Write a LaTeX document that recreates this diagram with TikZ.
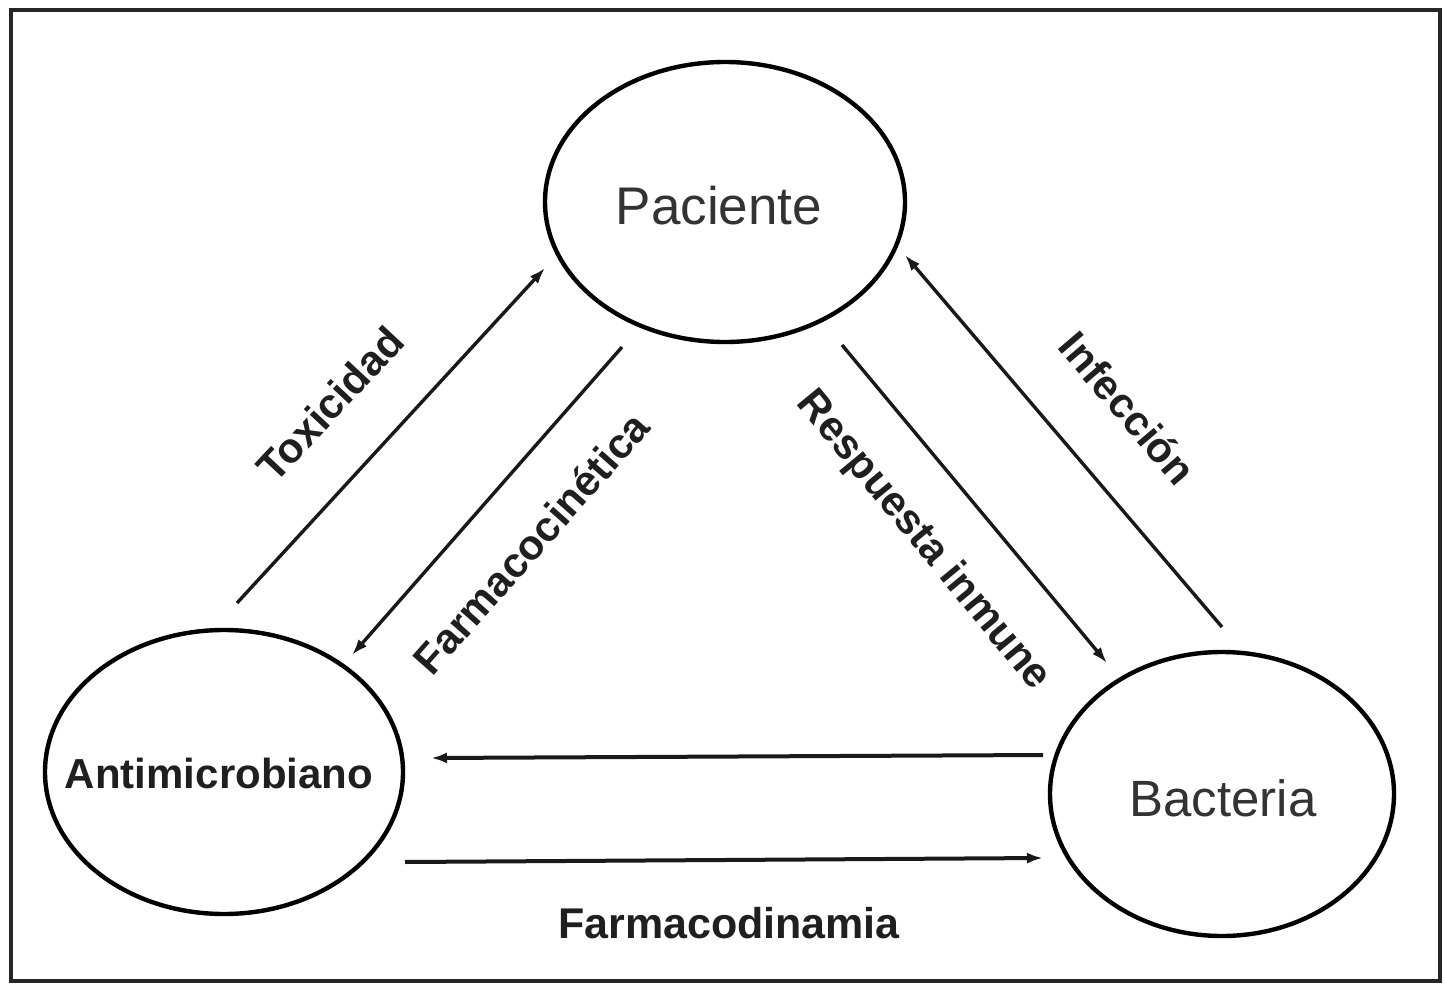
\documentclass[tikz,border=0pt]{standalone}
\usepackage{fontspec}
\setmainfont{Liberation Sans}
\usetikzlibrary{arrows.meta,shapes.geometric}
\begin{document}
\begin{tikzpicture}[x=1pt,y=-1pt,
  oval/.style={draw=black,line width=4.4pt,ellipse,inner sep=0pt},
  conn/.style={draw=black!90,line width=3.4pt,-{Latex[length=16pt,width=11pt]}},
  hconn/.style={conn,line width=4pt},
  lbl/.style={font=\fontsize{42}{48}\selectfont\bfseries,text=black!88,inner sep=0pt},
  big/.style={font=\fontsize{53}{60}\selectfont,text=black!80}]
\useasboundingbox (0,0) rectangle (1444,985);
\draw[line width=4pt,black!85] (11,10) rectangle (1440,981);

\node[oval,minimum width=360pt,minimum height=280pt] (P) at (725,202) {};
\node[oval,minimum width=358pt,minimum height=284pt] (A) at (224,772) {};
\node[oval,minimum width=344pt,minimum height=284pt] (B) at (1222,794) {};

\node[big] (Ptxt) at (719,206) {Paciente};
\node[lbl] (Atxt) at (219,773) {Antimicrobiano};
\node[font=\fontsize{51}{58}\selectfont,text=black!80] (Btxt) at (1223,798) {Bacteria};

\coordinate (t1) at (237,603);  \coordinate (t2) at (545,268);
\coordinate (f1) at (622,347);  \coordinate (f2) at (352,655);
\coordinate (r1) at (842,345);  \coordinate (r2) at (1107,663);
\coordinate (i1) at (1222,627); \coordinate (i2) at (905,255);
\coordinate (h1) at (1043,755); \coordinate (h2) at (431,758);
\coordinate (g1) at (405,862);  \coordinate (g2) at (1043,858);

\draw[conn] (t1) -- (t2);
\draw[conn] (f1) -- (f2);
\draw[conn] (r1) -- (r2);
\draw[conn] (i1) -- (i2);
\draw[hconn] (h1) -- (h2);
\draw[hconn] (g1) -- (g2);

\node[lbl,rotate=47] (Ltox) at (330,404) {Toxicidad};
\node[lbl,rotate=48.5] (Lfc) at (531,543) {Farmacocinética};
\node[lbl,rotate=-50.5] (Lri) at (923,541) {Respuesta inmune};
\node[lbl,rotate=-49.5] (Linf) at (1128,408) {Infección};
\node[lbl,font=\fontsize{43}{50}\selectfont\bfseries] (Lfd) at (729,923) {Farmacodinamia};
\end{tikzpicture}
\end{document}
